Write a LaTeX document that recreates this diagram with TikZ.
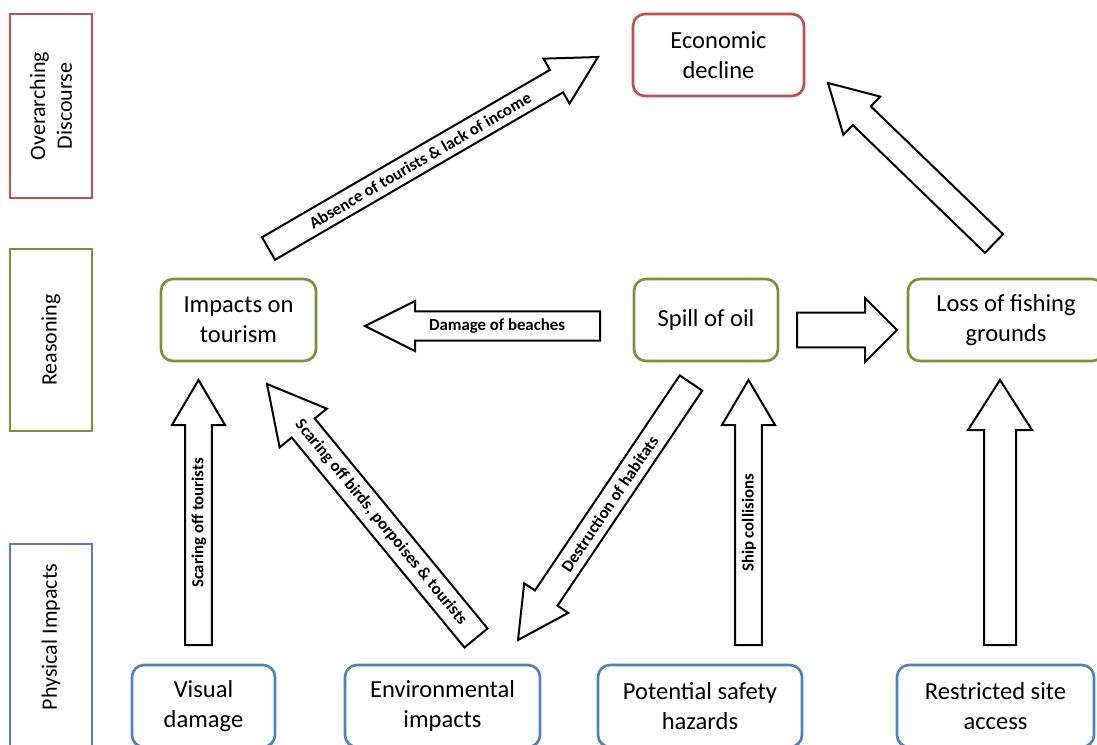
\documentclass[tikz,border=0pt]{standalone}
\usepackage{fontspec}
\setmainfont{Carlito}
\usetikzlibrary{calc}
\definecolor{cred}{HTML}{C0504D}
\definecolor{cgreen}{HTML}{77933C}
\definecolor{cblue}{HTML}{4F81BD}
\newcommand\boxfont{\fontsize{18.4}{22.5}\selectfont}
\newcommand\arrfont{\fontsize{12.6}{15}\selectfont\bfseries}
\newcommand\sidefont{\fontsize{16.5}{20}\selectfont}
% block arrow: #1 tail, #2 tip, #3 shaft half width, #4 head half width, #5 head length
\newcommand\blockarr[5]{%
  \coordinate (bh) at ($(#2)!#5!(#1)$);
  \draw[barrow] ($(#1)!#3!90:(#2)$) -- ($(bh)!#3!90:(#2)$) -- ($(bh)!#4!90:(#2)$) -- (#2)
    -- ($(bh)!#4!-90:(#2)$) -- ($(bh)!#3!-90:(#2)$) -- ($(#1)!#3!-90:(#2)$) -- cycle;
}
\begin{document}
\begin{tikzpicture}[x=0.75pt,y=-0.75pt,
  rbox/.style={draw=#1, line width=2pt, rounded corners=9pt, align=center, font=\boxfont, inner sep=0pt, minimum height=61.5pt},
  lbox/.style={draw=#1, line width=2pt, minimum width=61.5pt, inner sep=0pt},
  barrow/.style={draw=black, line width=1.5pt, fill=white, line join=miter},
  alabel/.style={font=\arrfont, inner sep=0pt},
  slabel/.style={font=\sidefont, align=center, rotate=90, inner sep=0pt}]
\useasboundingbox (0,0) rectangle (1097,744);

% side boxes
\node[lbox=cred, minimum height=138pt] (lred) at (51,106) {};
\node[slabel] (tred) at (51,106) {Overarching\\Discourse};
\node[lbox=cgreen, minimum height=136.5pt] (lgreen) at (51,340) {};
\node[slabel] (tgreen) at (51,340) {Reasoning};
\node[lbox=cblue, minimum height=169.5pt] (lblue) at (51,657) {};
\node[slabel] (tblue) at (51,637) {Physical Impacts};

% main boxes
\node[rbox=cred, minimum width=128.25pt] (econ) at (718.5,55) {Economic\\decline};
\node[rbox=cgreen, minimum width=116.25pt] (tour) at (238.5,320) {Impacts on\\tourism};
\node[rbox=cgreen, minimum width=108pt] (spill) at (706,320) {Spill of oil};
\node[rbox=cgreen, minimum width=147pt] (loss) at (1006,320) {Loss of fishing\\grounds};
\node[rbox=cblue, minimum width=107.25pt] (visual) at (203.5,706) {Visual\\damage};
\node[rbox=cblue, minimum width=146.25pt] (env) at (442.5,706) {Environmental\\impacts};
\node[rbox=cblue, minimum width=153pt] (safety) at (700,706) {Potential safety\\hazards};
\node[rbox=cblue, minimum width=147.75pt] (restr) at (995.5,706) {Restricted site\\access};

% arrow end points
\coordinate (a1t) at (268.5,248.5); \coordinate (a1h) at (598,57);
\coordinate (a2t) at (600,326);     \coordinate (a2h) at (365,326);
\coordinate (a3t) at (797,330);     \coordinate (a3h) at (897,330);
\coordinate (a4t) at (198.5,645);   \coordinate (a4h) at (198.5,380);
\coordinate (a5t) at (476,638);     \coordinate (a5h) at (267,384);
\coordinate (a6t) at (691,383);     \coordinate (a6h) at (518,640);
\coordinate (a7t) at (748.5,645);   \coordinate (a7h) at (748.5,380);
\coordinate (a8t) at (1000,645);    \coordinate (a8h) at (1000,380);
\coordinate (a9t) at (994,243.5);   \coordinate (a9h) at (828,83);

\blockarr{a1t}{a1h}{9.75pt}{19.5pt}{36pt}
\node[alabel, rotate=30.2] (l1) at ($(a1t)!0.46!(a1h)$) {Absence of tourists \& lack of income};
\blockarr{a2t}{a2h}{11pt}{18.75pt}{37.5pt}
\node[alabel] (l2) at (497,326) {Damage of beaches};
\blockarr{a3t}{a3h}{13.1pt}{24pt}{24pt}
\blockarr{a4t}{a4h}{10.1pt}{19.9pt}{33.75pt}
\node[alabel, rotate=90] (l4) at (199,523) {Scaring off tourists};
\blockarr{a5t}{a5h}{11.2pt}{22.9pt}{42.75pt}
\node[alabel, rotate=-50.5] (l5) at ($(a5t)!0.455!(a5h)$) {Scaring off birds, porpoises \& tourists};
\blockarr{a6t}{a6h}{10.2pt}{19.9pt}{37.9pt}
\node[alabel, rotate=56] (l6) at ($(a6t)!0.47!(a6h)$) {Destruction of habitats};
\blockarr{a7t}{a7h}{10.1pt}{19.9pt}{33.75pt}
\node[alabel, rotate=90] (l7) at (749,523) {Ship collisions};
\blockarr{a8t}{a8h}{12pt}{24pt}{37.5pt}
\blockarr{a9t}{a9h}{9.75pt}{19.9pt}{35.25pt}
\end{tikzpicture}
\end{document}
